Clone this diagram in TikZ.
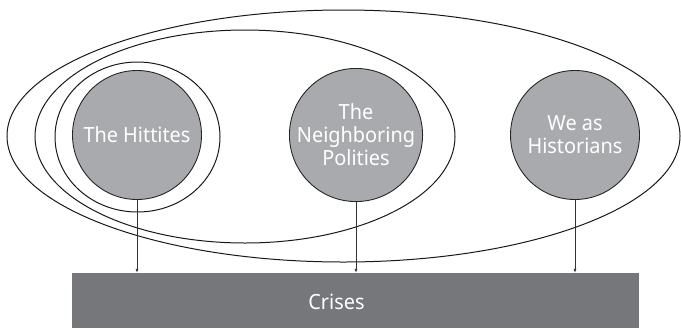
\documentclass[tikz,border=0pt]{standalone}
\usepackage{fontspec}
\setmainfont{Noto Sans}[FakeStretch=0.95]
\usepackage{tikz}
\usetikzlibrary{arrows.meta, positioning}
\definecolor{circlegray}{HTML}{A9AAAD}
\definecolor{boxgray}{HTML}{76777B}

\begin{document}
\begin{tikzpicture}[x=1bp, y=-1bp,
  every node/.style={align=center, text=white, font=\fontsize{21}{23}\selectfont},
  actor/.style={circle, draw=black!85, fill=circlegray, minimum size=129bp, inner sep=0pt, line width=0.9bp},
  crisis/.style={rectangle, fill=boxgray, minimum width=567bp, minimum height=55bp, inner sep=0pt},
  frame/.style={line width=1bp, black!90},
  arrow/.style={-{Latex[length=4bp, width=3bp]}, line width=0.7bp, black!80}
]
\useasboundingbox (0,0) rectangle (681,328);

% Frames
\draw[frame] (343.5,136) ellipse [x radius=336.5, y radius=126];
\draw[frame] (245,136.5) ellipse [x radius=210, y radius=106.5];
\draw[frame] (137.5,137) ellipse [x radius=82.5, y radius=75];

% Nodes
\node[actor] (hittites) at (137,135) {The Hittites};
\node[actor] (neighbors) at (356,135) {The\\Neighboring\\Polities};
\node[actor] (historians) at (575,135) {We as\\Historians};

\node[crisis, label={[xshift=-19bp, yshift=-1bp]center:Crises}] (crises) at (355.5,300.5) {};

% Arrows
\draw[arrow] (hittites.south) -- (hittites.south |- crises.north);
\draw[arrow] (neighbors.south) -- (neighbors.south |- crises.north);
\draw[arrow] (historians.south) -- (historians.south |- crises.north);

\end{tikzpicture}
\end{document}
